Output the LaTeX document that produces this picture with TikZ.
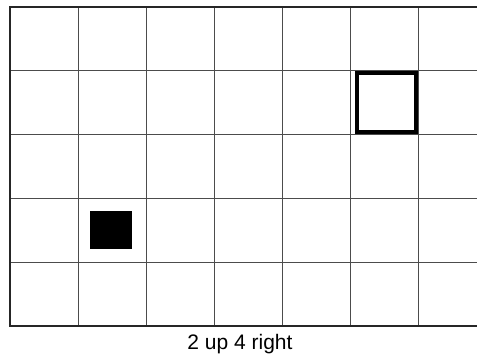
\documentclass[tikz,border=0pt]{standalone}
\usepackage{fontspec}
\setmainfont{Liberation Sans}
\usetikzlibrary{positioning}

\begin{document}
\begin{tikzpicture}[x=1pt,y=-1pt,
    gridline/.style={draw=black!70,line width=0.9pt},
    frameline/.style={draw=black!85,line width=2pt},
    goalbox/.style={draw=black,line width=4pt},
    startbox/.style={fill=black}]
  \useasboundingbox (0,0) rectangle (477,361);
  % grid
  \foreach \x in {78,146,214,282,350,418}
    \draw[gridline] (\x,6.7) -- (\x,326);
  \foreach \y in {70,134,198,262}
    \draw[gridline] (10,\y) -- (477,\y);
  % frame, open on the right
  \draw[frameline] (477,6.7) -- (10,6.7) -- (10,326) -- (477,326);
  % squares
  \draw[goalbox] (357,73.5) rectangle (415.5,131.5);
  \fill[startbox] (89.5,211) rectangle (132,249);
  \node (caption) at (240,344) {\fontsize{21}{25}\selectfont 2 up 4 right};
\end{tikzpicture}
\end{document}
